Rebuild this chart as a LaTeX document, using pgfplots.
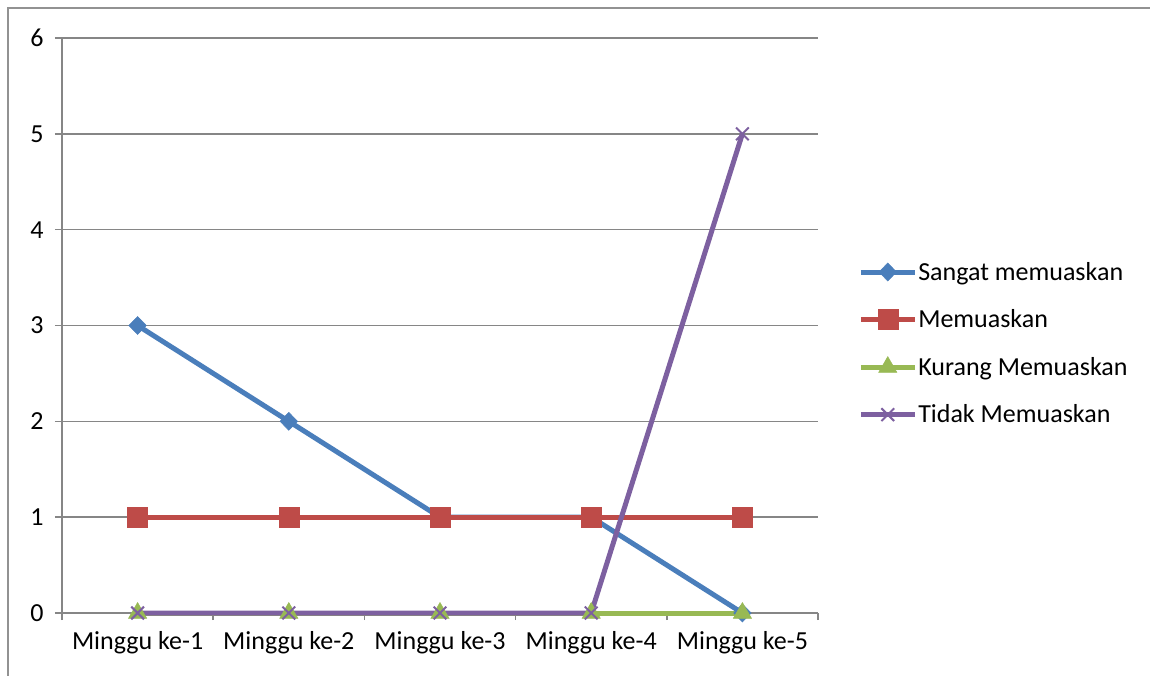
\documentclass[border=0pt]{standalone}
\usepackage{pgfplots}
\pgfplotsset{compat=1.18}
\usepackage{fontspec}
\setmainfont{Carlito}

\definecolor{cblue}{HTML}{4A7EBB}
\definecolor{cred}{HTML}{BE4B48}
\definecolor{cgreen}{HTML}{98B954}
\definecolor{cpurple}{HTML}{7D60A0}
\definecolor{cgrid}{HTML}{868686}

\begin{document}
\begin{tikzpicture}[x=1pt,y=1pt]
\useasboundingbox (0,0) rectangle (1150,675);
% outer chart frame
\draw[color=cgrid!90, line width=2pt] (7.5,-5) -- (7.5,666.5) -- (1155,666.5);

\begin{axis}[
  at={(62pt,62pt)}, anchor=south west,
  scale only axis,
  width=756pt, height=575pt,
  xmin=-0.5, xmax=4.5,
  ymin=0, ymax=6,
  clip=false,
  axis x line*=bottom,
  axis y line*=left,
  axis line style={color=cgrid, line width=1.5pt, -},
  xtick={0,1,2,3,4},
  xticklabels={Minggu ke-1,Minggu ke-2,Minggu ke-3,Minggu ke-4,Minggu ke-5},
  minor xtick={-0.5,0.5,1.5,2.5,3.5,4.5},
  ytick={0,1,2,3,4,5,6},
  tick align=outside,
  major tick length=7pt,
  minor tick length=7pt,
  x tick style={draw=none},
  minor x tick style={draw=cgrid, line width=1.5pt},
  y tick style={draw=cgrid, line width=1.5pt},
  ymajorgrids=true,
  grid style={color=cgrid, line width=1.5pt},
  tick label style={font=\fontsize{26}{30}\selectfont},
  /pgf/number format/assume math mode=true,
  yticklabel style={xshift=-8pt},
  xticklabel style={yshift=-8pt},
  legend style={
    at={(1.053,0.469)}, anchor=west,
    draw=none, fill=none, inner sep=0pt,
    font=\fontsize{26}{30}\selectfont,
    row sep=26pt,
    nodes={inner sep=1pt},
  },
  legend cell align=left,
  legend image code/.code={
    \draw[mark repeat=2,mark phase=2] plot coordinates {(0pt,0pt) (27pt,0pt) (54pt,0pt)};
  },
  every axis plot/.append style={line width=5pt},
]
\addplot[color=cblue, mark=diamond*, mark size=9pt, mark options={xscale=1.3, line width=0.5pt}]
  coordinates {(0,3) (1,2) (2,1) (3,1) (4,0)};
\addplot[color=cred, mark=square*, mark size=10pt, mark options={line width=0.5pt}]
  coordinates {(0,1) (1,1) (2,1) (3,1) (4,1)};
\addplot[color=cgreen, mark=triangle*, mark size=10.5pt, mark options={line width=0.5pt}]
  coordinates {(0,0) (1,0) (2,0) (3,0) (4,0)};
\addplot[color=cpurple, mark=x, mark size=9pt, mark options={line width=2pt}]
  coordinates {(0,0) (1,0) (2,0) (3,0) (4,5)};
\legend{Sangat memuaskan, Memuaskan, Kurang Memuaskan, Tidak Memuaskan}
\end{axis}
\end{tikzpicture}
\end{document}
